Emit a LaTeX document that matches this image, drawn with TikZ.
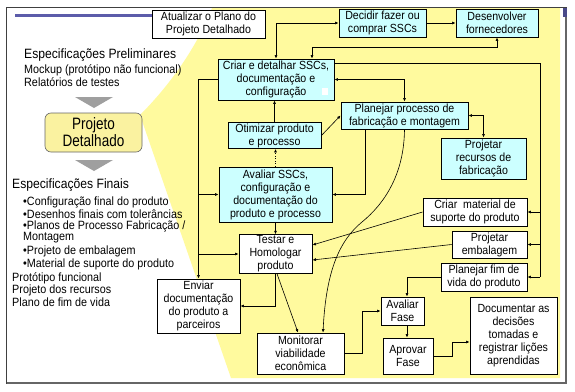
\documentclass[tikz,border=0pt]{standalone}
\usepackage{fontspec}
\setmainfont{Liberation Sans}[FakeStretch=0.9]
\newfontfamily\pdfont{Liberation Sans}[FakeStretch=0.82]
\usetikzlibrary{arrows.meta}
\definecolor{boxcyan}{HTML}{CCFFFF}
\definecolor{bgyellow}{HTML}{FFFA9E}
\definecolor{pdyellow}{HTML}{FAF2A0}
\definecolor{topblue}{HTML}{5C5CAA}
\begin{document}
\begin{tikzpicture}[x=1pt,y=-1pt,
  bx/.style={draw=black, line width=0.9pt, align=center, inner sep=1pt,
    font=\fontsize{11.8}{13}\selectfont},
  wbox/.style={bx, fill=white},
  cbox/.style={bx, fill=boxcyan},
  ltext/.style={anchor=west, inner sep=0pt, font=\fontsize{12}{13}\selectfont},
  lhead/.style={anchor=west, inner sep=0pt, font=\fontsize{13.5}{15}\selectfont},
  arr/.style={line width=0.6pt, -{Latex[length=3.5pt,width=3pt]}},
  darr/.style={line width=0.6pt, {Latex[length=3.5pt,width=3pt]}-{Latex[length=3.5pt,width=3pt]}},
  ln/.style={line width=0.6pt}]
\useasboundingbox (0,0) rectangle (575,391);
\fill[white] (0,0) rectangle (575,391);
% yellow background
\fill[bgyellow] (140,115) .. controls (175,80) and (200,40) .. (212,8) -- (560,8) -- (560,378) -- (231,378) -- cycle;
% frame
\draw[line width=1pt, black!75] (6,7) rectangle (566,383);
\draw[line width=1.2pt, black!60] (566,8) -- (566,383) -- (7,383);
\fill[topblue!80!black] (563,8) rectangle (567,17);
\draw[line width=3pt, topblue] (15,15) -- (153,15);

% left side
\node[lhead] (ep) at (24,55) {Especificações Preliminares};
\node[ltext] (mk) at (24,70) {Mockup (protótipo não funcional)};
\node[ltext] (rt) at (24,82) {Relatórios de testes};
\fill[gray!75] (75,97) -- (113,97) -- (94,108) -- cycle;
\node[draw=black!60, line width=0.6pt, fill=pdyellow, rounded corners=6pt, minimum width=97pt, minimum height=39pt, align=center, inner sep=1pt, font=\pdfont\fontsize{16.5}{17}\selectfont] (pd) at (93.5,132.5) {Projeto\\Detalhado};
\fill[gray!75] (75,160) -- (113,160) -- (94,171) -- cycle;
\node[lhead] (ef) at (12,185) {Especificações Finais};
\node[ltext] (b1) at (23,202) {•Configuração final do produto};
\node[ltext] (b2) at (23,214) {•Desenhos finais com tolerâncias};
\node[ltext] (b3) at (23,226) {•Planos de Processo Fabricação /};
\node[ltext] (b4) at (23,238) {Montagem};
\node[ltext] (b5) at (23,251) {•Projeto de embalagem};
\node[ltext] (b6) at (23,264) {•Material de suporte do produto};
\node[ltext] (p1) at (12,278) {Protótipo funcional};
\node[ltext] (p2) at (12,290) {Projeto dos recursos};
\node[ltext] (p3) at (12,302) {Plano de fim de vida};

% boxes
\node[wbox, minimum width=113pt, minimum height=28pt] (atu) at (208.5,24) {Atualizar o Plano do\\Projeto Detalhado};
\node[cbox, minimum width=87pt, minimum height=28pt] (dec) at (382.5,23) {Decidir fazer ou\\comprar SSCs};
\node[cbox, minimum width=82pt, minimum height=28pt] (des) at (497,23) {Desenvolver\\fornecedores};
\node[cbox, minimum width=116pt, minimum height=41pt] (cri) at (276,79.5) {Criar e detalhar SSCs,\\documentação e\\configuração};
\fill[white] (322,88) rectangle (328,95);
\node[cbox, minimum width=93pt, minimum height=25pt] (oti) at (274.5,135.5) {Otimizar produto\\e processo};
\node[cbox, minimum width=127pt, minimum height=27pt] (pla) at (404.5,115.5) {Planejar processo de\\fabricação e montagem};
\node[cbox, minimum width=85pt, minimum height=41pt] (prr) at (483.5,158.5) {Projetar\\recursos de\\fabricação};
\node[cbox, minimum width=113pt, minimum height=55pt] (ava) at (275.5,194.5) {Avaliar SSCs,\\configuração e\\documentação do\\produto e processo};
\node[wbox, minimum width=73pt, minimum height=38pt] (tes) at (275.5,254) {Testar e\\Homologar\\produto};
\node[wbox, minimum width=83pt, minimum height=54pt] (env) at (198.5,306) {Enviar\\documentação\\do produto a\\parceiros};
\node[wbox, minimum width=87pt, minimum height=41pt] (mon) at (300.5,353.5) {Monitorar\\viabilidade\\econômica};
\node[wbox, minimum width=104pt, minimum height=28pt] (cms) at (475,212) {Criar\ \ material de\\suporte do produto};
\node[wbox, minimum width=75pt, minimum height=27pt] (pem) at (489.5,244.5) {Projetar\\embalagem};
\node[wbox, minimum width=86pt, minimum height=28pt] (pfv) at (484,277) {Planejar fim de\\vida do produto};
\node[wbox, minimum width=43pt, minimum height=28pt] (avf) at (402.5,311) {Avaliar\\Fase};
\node[wbox, minimum width=50pt, minimum height=36pt] (apf) at (408,356) {Aprovar\\Fase};
\node[wbox, minimum width=87pt, minimum height=77pt] (doc) at (513.5,335.5) {Documentar as\\decisões\\tomadas e\\registrar lições\\aprendidas};

% connectors
\draw[darr] (cri.north) |- (dec.west);
\draw[arr] (dec.east) -- (des.west);
\draw[darr] (des.south) -- ++(0,10) -| ([xshift=36pt]cri.north);
\coordinate (r1) at (540,63);
\coordinate (r2) at (540,277);
\draw[ln] (cri.east |- r1) -- (r1) -- (r2);
\draw[arr] (r1 |- cms.east) -- (cms.east);
\draw[arr] (r1 |- pem.east) -- (pem.east);
\draw[arr] (r2) -- (pfv.east);
\draw[darr] (pla.north) |- (cri.east);
\draw[darr] (pla.east) -| (prr.north);
\draw[arr] (oti.east) -- (pla.west);
\draw[arr] (oti.north) -- (oti.north |- cri.south);
\draw[arr, dotted] (ava.north) -- (ava.north |- oti.south);
\draw[arr] (cri.west) -| (env.north);
\draw[arr] (env.north |- ava.west) -- (ava.west);
\draw[arr] (env.north |- tes.west) -- (tes.west);
\draw[arr] ([xshift=-39.5pt]pla.south) |- (ava.east);
\draw[arr] (ava.south) -- (tes.north);
\draw[arr] (tes.south) |- (env.east);
\draw[arr] ([xshift=1.5pt]tes.south) -- ([xshift=-2.5pt]mon.north);
\draw[arr] (pla.south) .. controls (404,175) and (384,204) .. (362,222) .. controls (340,240) and (326,270) .. ([xshift=22.5pt]mon.north);
\draw[arr] (cms.west) -- ([yshift=9pt]tes.east);
\draw[arr] (pem.west) -- ([yshift=-6pt]tes.east);
\draw[arr] (pfv.west) -| ([xshift=4.5pt]avf.north);
\draw[arr] (mon.east) -- ++(18,0) |- (avf.west);
\draw[arr] ([xshift=4.5pt]avf.south) -- ([xshift=4.5pt]avf.south |- apf.north);
\draw[arr] (apf.east) -- ++(19,0) |- ([yshift=-6.5pt]doc.west);
\end{tikzpicture}
\end{document}
